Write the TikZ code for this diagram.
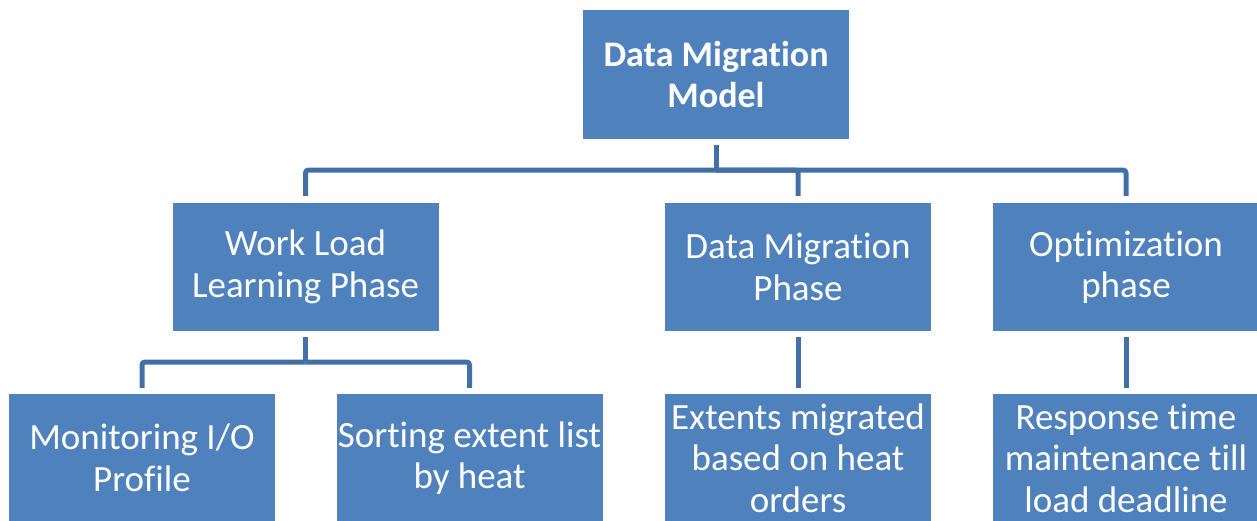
\documentclass[tikz,border=0pt]{standalone}
\usepackage{fontspec}
\setmainfont{Carlito}[Ligatures={NoCommon,NoContextual},RawFeature={-liga;-calt;-clig}]
\definecolor{boxblue}{HTML}{4F81BD}
\definecolor{lineblue}{HTML}{4270A6}
\begin{document}
\begin{tikzpicture}[x=1pt,y=-1pt,
  box/.style={fill=boxblue, draw=none, minimum width=266pt, minimum height=128pt,
    text=white, align=center, inner sep=0pt,
    font=\fontsize{37}{41.5}\selectfont},
  conn/.style={draw=lineblue, line width=5pt, rounded corners=3pt}]
\useasboundingbox (0,0) rectangle (1257,520);
\clip (0,0) rectangle (1257,520);
\node[box, minimum height=129pt, font=\fontsize{36}{41.5}\selectfont\bfseries] (top) at (716,74.5) {Data Migration\\Model};
\node[box] (wl) at (305.5,267) {Work Load\\Learning Phase};
\node[box] (dmp) at (798,267) {Data Migration\\Phase};
\node[box] (op) at (1126,267) {Optimization\\phase};
\node[box] (mon) at (142,458) {Monitoring I/O\\Profile};
\node[box] (sort) at (469.5,458) {Sorting extent list\\by heat};
\node[box] (ext) at (798,458) {Extents migrated\\based on heat\\orders};
\node[box] (resp) at (1126,458) {Response time\\maintenance till\\load deadline};
\coordinate (j1) at (716,170);
\coordinate (j2) at (305.5,362);
\draw[conn, shorten <=6pt] (top.south) -- (j1);
\draw[conn, shorten >=7pt] (j1) -| (wl.north);
\draw[conn, shorten >=7pt] (j1) -| (dmp.north);
\draw[conn, shorten >=7pt] (j1) -| (op.north);
\draw[conn, shorten <=6pt] (wl.south) -- (j2);
\draw[conn, shorten >=6pt] (j2) -| (mon.north);
\draw[conn, shorten >=6pt] (j2) -| (sort.north);
\draw[conn, shorten <=6pt, shorten >=6pt] (dmp.south) -- (ext.north);
\draw[conn, shorten <=6pt, shorten >=6pt] (op.south) -- (resp.north);
\end{tikzpicture}
\end{document}
